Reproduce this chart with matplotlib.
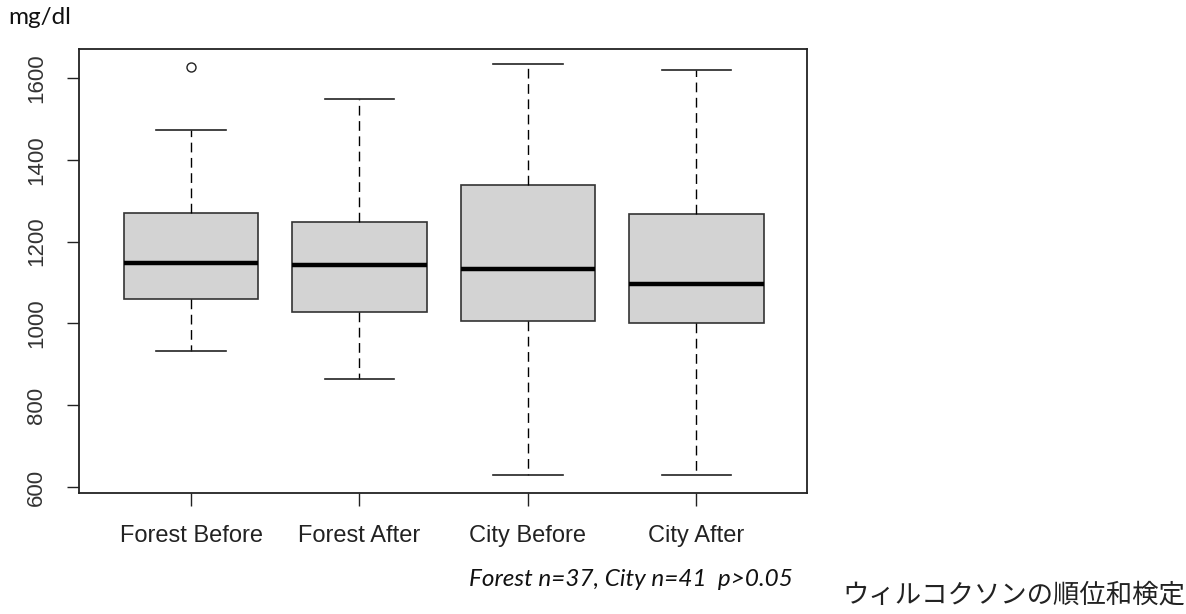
import matplotlib
matplotlib.use("Agg")
import matplotlib.pyplot as plt

# box statistics (mg/dl)
groups = ["Forest Before", "Forest After", "City Before", "City After"]
whisker_low = [934, 865, 630, 630]
q1 = [1061, 1027, 1006, 1002]
median = [1147, 1143, 1132, 1097]
q3 = [1271, 1248, 1339, 1267]
whisker_high = [1473, 1549, 1633, 1618]
outliers = [[1626], [], [], []]

yticks = [600, 800, 1000, 1200, 1400, 1600]

stats = []
for i, name in enumerate(groups):
    stats.append({
        "label": name,
        "whislo": whisker_low[i],
        "q1": q1[i],
        "med": median[i],
        "q3": q3[i],
        "whishi": whisker_high[i],
        "fliers": outliers[i],
    })

fig = plt.figure(figsize=(11.86, 6.14), dpi=100)
ax = fig.add_axes([0.0666, 0.197, 0.6138, 0.723])

ax.bxp(
    stats,
    positions=[1, 2, 3, 4],
    widths=0.8,
    patch_artist=True,
    showfliers=True,
    boxprops=dict(facecolor="#d3d3d3", edgecolor="#333333", linewidth=1.2),
    medianprops=dict(color="black", linewidth=3.2, solid_capstyle="butt"),
    whiskerprops=dict(color="black", linewidth=1.0, linestyle=(0, (7, 4))),
    capprops=dict(color="#222222", linewidth=1.2),
    capwidths=0.41,
    flierprops=dict(marker="o", markersize=6.5, markerfacecolor="none",
                    markeredgecolor="#222222", markeredgewidth=1.0),
)

ax.set_xlim(0.335, 4.656)
ax.set_ylim(586, 1670)
ax.set_yticks(yticks)
ax.set_xticks([1, 2, 3, 4])
ax.set_xticklabels(groups)

for side in ax.spines.values():
    side.set_color("#222222")
    side.set_linewidth(1.3)

ax.tick_params(axis="both", direction="out", length=9, width=1.0, color="#222222")
ax.tick_params(axis="y", labelrotation=90, pad=14)
ax.tick_params(axis="x", pad=14)
for lab in ax.get_yticklabels():
    lab.set_fontfamily("Liberation Sans")
    lab.set_fontsize(16)
    lab.set_color("#333333")
    lab.set_va("center")
for lab in ax.get_xticklabels():
    lab.set_fontfamily("Liberation Sans")
    lab.set_fontsize(17)
    lab.set_color("#222222")

fig.text(8 / 1186, 1 - 18 / 614, "mg/dl", fontfamily="Lato", fontsize=17.5,
         va="center", ha="left", color="#111111")
fig.text(793 / 1186, 1 - 580 / 614, "Forest n=37, City n=41  p>0.05",
         fontfamily="Lato", fontstyle="italic", fontsize=17.5,
         va="center", ha="right", color="#111111")
fig.text(1185 / 1186, 1 - 595 / 614, "ウィルコクソンの順位和検定",
         fontfamily=["Noto Sans CJK JP", "DejaVu Sans"], fontsize=19,
         va="center", ha="right", color="#222222")

fig.savefig("out.png", dpi=100)
